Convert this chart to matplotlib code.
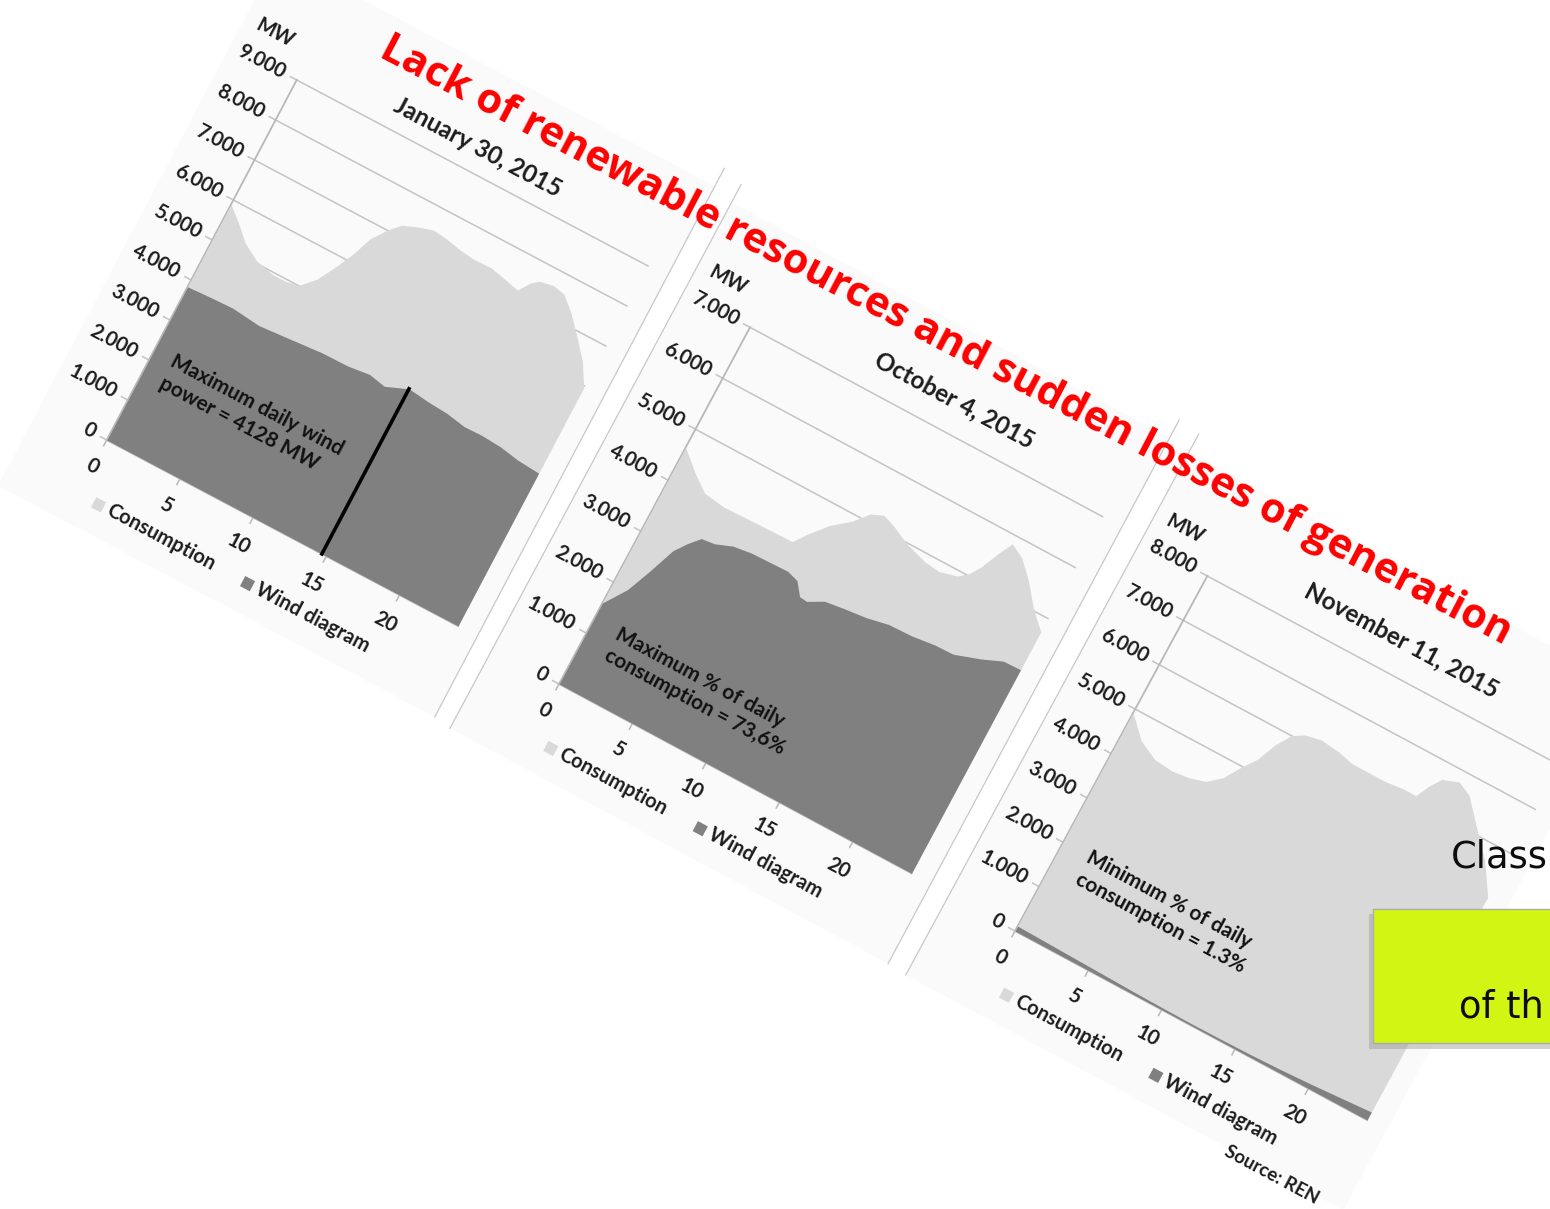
import matplotlib
matplotlib.use("Agg")
import matplotlib.pyplot as plt
from matplotlib.patches import Polygon, Rectangle
from matplotlib.transforms import Affine2D
import numpy as np

# January 30, 2015
jan_hours = [0, 0.9, 1.85, 2.95, 4.2, 5.1, 5.9, 6.7, 7.3, 7.9, 8.4, 9.1, 9.7, 10.7, 11.5,
             12.4, 13.5, 14.4, 15.7, 16.7, 17.7, 18.2, 18.65, 19.5, 20.3, 21.2, 22.3, 23.2, 24]
jan_consumption = [5890, 5610, 5280, 5050, 4950, 4950, 5010, 5320, 5720, 6170, 6660, 7020, 7250, 7390, 7480,
                   7450, 7370, 7330, 7340, 7260, 7180, 7450, 7580, 7640, 7580, 7290, 6840, 6450, 5950]
jan_wind_hours = [0, 1.5, 3, 4.9, 7, 9, 10.8, 12.2, 13.3, 14.7, 16.1, 17.4, 18.7, 19.9, 21.2, 22.5, 24]
jan_wind = [3830, 3860, 3880, 3810, 3870, 3930, 3940, 4000, 3920, 4128, 4070, 4040, 3960, 3970, 3940, 3860, 3820]
jan_max_hour = 14.7
jan_max_wind = 4128

# October 4, 2015
oct_hours = [0, 1.3, 2.3, 3.7, 4.9, 6.15, 7.4, 8.3, 8.85, 9.8, 10.9, 11.65, 12.4, 13.2, 14.4,
             15.9, 16.9, 18, 18.55, 19, 19.55, 20, 20.9, 21.9, 22.95, 23.55, 24]
oct_consumption = [4640, 4310, 4100, 4045, 4055, 4065, 4075, 4080, 4300, 4625, 4885, 5140, 5230, 5150, 4985,
                   4855, 4825, 4905, 5035, 5235, 5595, 5845, 5710, 5415, 5035, 4860, 4740]
oct_wind_hours = [0, 0.95, 1.6, 2.25, 2.8, 3.4, 4.25, 5.3, 6.45, 7.7, 8.9, 9.65, 10.25, 10.75, 11.7,
                  12.9, 14.35, 15.75, 17.3, 18.75, 20, 21.6, 22.85, 24]
oct_wind = [1590, 2000, 2460, 2965, 3185, 3380, 3410, 3525, 3570, 3580, 3590, 3525, 3300, 3285, 3435,
            3480, 3525, 3605, 3620, 3670, 3680, 3835, 3985, 3995]

# November 11, 2015
nov_hours = [0, 1.2, 2.45, 3.7, 4.8, 5.8, 6.6, 7.2, 7.9, 8.4, 9, 9.7, 10.7, 12, 13, 14.15, 15.3,
             16.4, 17.3, 17.7, 18.2, 19.2, 20.1, 21.25, 22.8, 24]
nov_consumption = [4915, 4510, 4305, 4265, 4305, 4400, 4625, 4950, 5275, 5680, 6000, 6140, 6205, 6160, 6080,
                   6080, 6080, 6120, 6120, 6400, 6645, 6765, 6625, 6195, 5630, 5020]
nov_wind_hours = [0, 2, 4, 6, 8, 10, 12, 14, 16, 18, 20, 22, 24]
nov_wind = [110, 95, 80, 65, 50, 40, 35, 40, 50, 70, 100, 140, 180]

plt.rcParams["font.family"] = ["Lato", "DejaVu Sans"]

fig = plt.figure(figsize=(15.5, 12.09), dpi=100)
ax = fig.add_axes([0, 0, 1, 1])
ax.set_xlim(0, 1550)
ax.set_ylim(1209, 0)
ax.set_autoscale_on(False)
ax.axis("off")

LIGHT = "#d9d9d9"
DARK = "#808080"
GRID = "#c4c4c4"
INK = "#1c1c1c"


def draw_chart(origin, xvec, yvec, ymax, title, title_pos, note, note_pos,
               hours, cons, wind_hours, wind, left_edge=True, right_edge=True):
    frame = Affine2D.from_values(xvec[0], xvec[1], yvec[0], yvec[1], origin[0], origin[1]) + ax.transData
    data = Affine2D().scale(1 / 24, 1 / ymax) + frame
    rot = -np.degrees(np.arctan2(xvec[1], xvec[0]))

    # chart picture background
    ax.add_patch(Polygon([(-0.188, -0.224), (1.055, -0.224), (1.055, 1.25), (-0.188, 1.25)],
                         closed=True, transform=frame, facecolor="#fafafa", edgecolor="none", zorder=0))
    if left_edge:
        ax.plot([-0.188, -0.188], [-0.224, 1.3], transform=frame, color="#c8c8c8", lw=0.9, zorder=0.5)
    if right_edge:
        ax.plot([1.055, 1.055], [-0.224, 1.3], transform=frame, color="#c8c8c8", lw=0.9, zorder=0.5)

    # gridlines, axes, ticks
    ticks = list(range(0, ymax + 1, 1000))
    for v in ticks:
        if v > 0:
            ax.plot([0, 24], [v, v], transform=data, color=GRID, lw=1.1, zorder=1)
        ax.plot([-0.018, 0], [v / ymax, v / ymax], transform=frame, color=GRID, lw=1.1, zorder=1)
        ax.text(-0.035, v / ymax, f"{v:,}".replace(",", "."), transform=frame, rotation=rot,
                rotation_mode="anchor", ha="right", va="center", fontsize=14.5,
                fontweight="bold", color=INK)
    ax.plot([0, 0], [0, ymax], transform=data, color="#b8b8b8", lw=1.3, zorder=1.5)
    ax.plot([0, 24], [0, 0], transform=data, color="#b8b8b8", lw=1.3, zorder=1.5)
    for t in [0, 5, 10, 15, 20]:
        ax.plot([t / 24, t / 24], [0, -0.016], transform=frame, color="#b8b8b8", lw=1.1, zorder=1.5)
        ax.text(t / 24, -0.074, str(t), transform=frame, rotation=rot, rotation_mode="anchor",
                ha="center", va="center", fontsize=14.5, fontweight="bold", color=INK)

    # areas
    ax.fill_between(hours, 0, cons, transform=data, color=LIGHT, lw=0, zorder=2)
    ax.fill_between(wind_hours, 0, wind, transform=data, color=DARK, lw=0, zorder=3)

    # texts
    ax.text(-0.105, 1.077, "MW", transform=frame, rotation=rot, rotation_mode="anchor",
            ha="center", va="center", fontsize=14.5, fontweight="bold", color=INK)
    ax.text(title_pos[0], title_pos[1], title, transform=frame, rotation=rot, rotation_mode="anchor",
            ha="center", va="center", fontsize=17.5, fontweight="bold", color=INK)
    ax.text(note_pos[0], note_pos[1], note, transform=frame, rotation=rot, rotation_mode="anchor",
            ha="left", va="center", multialignment="left", fontsize=15, fontweight="bold",
            color="#111111", linespacing=1.25, zorder=6)

    # legend
    for (cx, label, col) in [(0.058, "Consumption", LIGHT), (0.482, "Wind diagram", DARK)]:
        ax.add_patch(Rectangle((cx - 0.014, -0.15 - 0.014), 0.028, 0.028, transform=frame,
                               facecolor=col, edgecolor="none", zorder=2))
        ax.text(cx + 0.026, -0.15, label, transform=frame, rotation=rot, rotation_mode="anchor",
                ha="left", va="center", fontsize=14.5, fontweight="bold", color=INK)
    return frame, data


f1, d1 = draw_chart((106.7, 440), (351.3, 186), (190, -360), 9000, "January 30, 2015", (0.482, 1.061),
                    "Maximum daily wind\npower = 4128 MW", (0.052, 0.218),
                    jan_hours, jan_consumption, jan_wind_hours, jan_wind, left_edge=False)
ax.plot([jan_max_hour, jan_max_hour], [0, jan_max_wind], transform=d1, color="black", lw=2.6, zorder=5)

f2, d2 = draw_chart((559, 684), (352.5, 189.3), (191, -356.7), 7000, "October 4, 2015", (0.536, 1.081),
                    "Maximum % of daily\nconsumption = 73,6%", (0.068, 0.148),
                    oct_hours, oct_consumption, oct_wind_hours, oct_wind)

f3, d3 = draw_chart((1015, 931), (352, 189), (192.3, -355), 8000, "November 11, 2015", (0.505, 1.088),
                    "Minimum % of daily\nconsumption = 1.3%", (0.072, 0.218),
                    nov_hours, nov_consumption, nov_wind_hours, nov_wind, right_edge=False)
rot3 = -np.degrees(np.arctan2(189, 352))
ax.text(0.855, -0.233, "Source: REN", transform=f3, rotation=rot3, rotation_mode="anchor",
        ha="center", va="center", fontsize=13.5, fontweight="bold", color=INK, zorder=6)

# slide title
ax.text(946, 341, "Lack of renewable resources and sudden losses of generation", rotation=-27.6,
        rotation_mode="anchor", ha="center", va="center", fontsize=30, fontweight="bold",
        family=["Open Sans", "DejaVu Sans"], color="#ff0000", zorder=8)

# right side slide content
ax.text(1451, 868, "Class", ha="left", va="baseline", fontsize=26.5, family="DejaVu Sans",
        color="#0d0d0d", zorder=8)
ax.add_patch(Rectangle((1369, 914), 200, 135, facecolor="#9a9a9a", alpha=0.45, edgecolor="none", zorder=9))
ax.add_patch(Rectangle((1373, 909), 200, 134, facecolor="#d3f513", edgecolor="#a9b0a0", lw=1, zorder=10))
ax.text(1459, 1018, "of th", ha="left", va="baseline", fontsize=26.5, family="DejaVu Sans",
        color="#0d0d0d", zorder=11)

fig.savefig("out.png", dpi=100)
